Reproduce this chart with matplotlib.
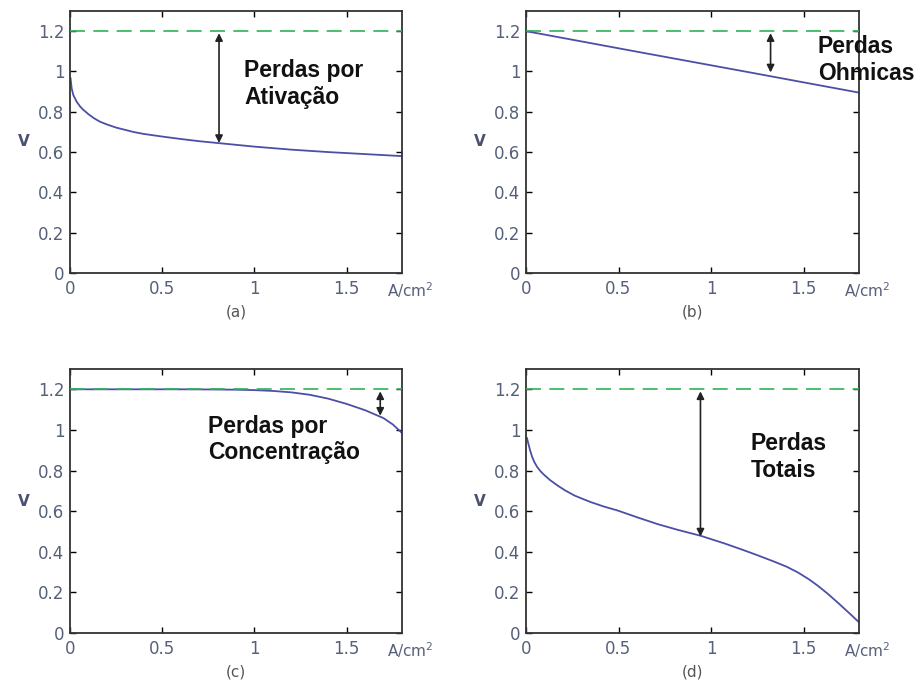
import numpy as np
import matplotlib
matplotlib.use("Agg")
import matplotlib.pyplot as plt

# === Dados ===
E0 = 1.2  # tensão ideal (linha tracejada)

xa = [0.003, 0.009, 0.018, 0.036, 0.055, 0.072, 0.1, 0.13, 0.162, 0.2, 0.252, 0.3, 0.343, 0.4, 0.5, 0.6, 0.7, 0.8, 0.9, 1.0, 1.2, 1.4, 1.6, 1.8]
ya = [0.966, 0.916, 0.883, 0.85, 0.826, 0.81, 0.788, 0.768, 0.751, 0.737, 0.721, 0.71, 0.70, 0.69, 0.677, 0.665, 0.654, 0.645, 0.636, 0.627, 0.612, 0.60, 0.59, 0.58]

xb = [0.0, 0.6, 1.2, 1.8]
yb = [1.2, 1.098, 0.997, 0.895]

xc = [0.0, 0.2, 0.4, 0.6, 0.8, 0.9, 1.0, 1.1, 1.2, 1.3, 1.4, 1.5, 1.6, 1.7, 1.75, 1.8]
yc = [1.2, 1.2, 1.2, 1.2, 1.199, 1.198, 1.196, 1.192, 1.185, 1.173, 1.154, 1.128, 1.097, 1.058, 1.027, 0.985]

xd = [0.005, 0.012, 0.022, 0.033, 0.045, 0.06, 0.08, 0.1, 0.13, 0.171, 0.21, 0.262, 0.31, 0.352, 0.42, 0.496, 0.6, 0.712, 0.82, 0.943, 1.073, 1.17, 1.254, 1.34, 1.41, 1.47, 1.53, 1.58, 1.63, 1.68, 1.74, 1.8]
yd = [0.96, 0.935, 0.9, 0.868, 0.842, 0.818, 0.795, 0.777, 0.753, 0.726, 0.703, 0.677, 0.659, 0.644, 0.623, 0.603, 0.57, 0.536, 0.508, 0.479, 0.441, 0.41, 0.382, 0.352, 0.326, 0.298, 0.264, 0.231, 0.194, 0.154, 0.104, 0.053]

curves = [(xa, ya), (xb, yb), (xc, yc), (xd, yd)]
letters = ["(a)", "(b)", "(c)", "(d)"]
labels = ["Perdas por\nAtivação", "Perdas\nOhmicas", "Perdas por\nConcentração", "Perdas\nTotais"]
label_pos = [(0.943, 1.06), (1.578, 1.18), (0.748, 1.075), (1.216, 0.99)]
arrows = [(0.808, 0.645), (1.322, 0.995), (1.682, 1.07), (0.943, 0.475)]

xticks = [0, 0.5, 1, 1.5]
yticks = [0, 0.2, 0.4, 0.6, 0.8, 1.0, 1.2]
xtick_labels = ["0", "0.5", "1", "1.5"]
ytick_labels = ["0", "0.2", "0.4", "0.6", "0.8", "1", "1.2"]

tick_color = "#56607a"
W, H = 917, 682
fig = plt.figure(figsize=(W / 100, H / 100), dpi=100)

# posições dos eixos em pixels: (esquerda, topo, direita, baixo)
boxes = [(70, 11, 402, 273), (526, 11, 859, 273), (70, 369, 402, 633), (526, 369, 859, 633)]

for i, (l, t, r, b) in enumerate(boxes):
    ax = fig.add_axes([l / W, 1 - b / H, (r - l) / W, (b - t) / H])
    x, y = curves[i]
    ax.plot(x, y, color="#4b4fa6", lw=1.3, zorder=2)
    ax.axhline(E0, color="#2db357", lw=1.2, dashes=(9, 5), zorder=3)
    ax.set_xlim(0, 1.8)
    ax.set_ylim(0, 1.3)
    ax.set_xticks(xticks)
    ax.set_xticklabels(xtick_labels)
    ax.set_yticks(yticks)
    ax.set_yticklabels(ytick_labels)
    ax.tick_params(direction="in", top=True, right=True, length=4, width=1,
                   labelsize=12, labelcolor=tick_color)
    ax.tick_params(axis="x", pad=5)
    ax.tick_params(axis="y", pad=4)
    for s in ax.spines.values():
        s.set_color("#333333")
        s.set_linewidth(1.3)

    # seta dupla
    xa_, yend = arrows[i]
    ax.annotate("", xy=(xa_, yend), xytext=(xa_, 1.19),
                arrowprops=dict(arrowstyle="<|-|>", color="#222222", lw=1.2,
                                mutation_scale=11, shrinkA=0, shrinkB=0), zorder=4)

    lx, ly = label_pos[i]
    ax.text(lx, ly, labels[i], fontsize=16.5, fontweight="bold", family="Liberation Sans",
            color="#111111", va="top", ha="left", linespacing=1.2, clip_on=False)

    ax.text(0.955, -0.065, "A/cm$^2$", transform=ax.transAxes, ha="left", va="center",
            fontsize=11, color=tick_color)
    ax.text(0.5, -0.12, letters[i], transform=ax.transAxes, ha="center", va="top",
            fontsize=11, color="#555555")
    ax.set_ylabel("V", rotation=0, fontsize=11, fontweight="semibold", color="#4a5070",
                  labelpad=10, va="center")

fig.savefig("out.png", dpi=100)
